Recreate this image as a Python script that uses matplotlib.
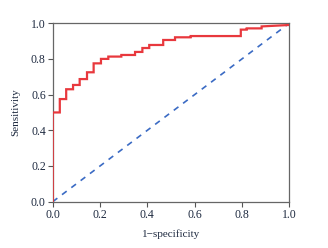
import matplotlib
matplotlib.use("Agg")
from matplotlib import pyplot as plt
import numpy as np

# ROC step points
fpr = [0.0, 0.0, 0.03, 0.03, 0.057, 0.057, 0.086, 0.086, 0.114, 0.114, 0.145, 0.145,
       0.173, 0.173, 0.204, 0.204, 0.235, 0.235, 0.29, 0.29, 0.348, 0.348, 0.379, 0.379,
       0.408, 0.408, 0.467, 0.467, 0.517, 0.517, 0.583, 0.583, 0.795, 0.795, 0.82, 0.82,
       0.883, 0.883, 1.0]
tpr = [0.0, 0.5, 0.5, 0.575, 0.575, 0.63, 0.63, 0.654, 0.654, 0.687, 0.687, 0.725,
       0.725, 0.775, 0.775, 0.80, 0.80, 0.813, 0.813, 0.822, 0.822, 0.839, 0.839, 0.861,
       0.861, 0.878, 0.878, 0.906, 0.906, 0.921, 0.921, 0.928, 0.928, 0.964, 0.964, 0.971,
       0.971, 0.982, 0.99]
ref = [0.0, 1.0]
ticks = [0.0, 0.2, 0.4, 0.6, 0.8, 1.0]

plt.rcParams['font.family'] = ['Liberation Serif', 'DejaVu Serif']

fig = plt.figure(figsize=(3.28, 2.48), dpi=100)
ax = fig.add_axes([52.7/328, 46.3/248, 236.6/328, 178.5/248])

ax.plot(fpr, tpr, color='#e8383d', lw=1.6, solid_joinstyle='miter', zorder=3)
ax.plot(ref, ref, color='#3b6bc4', lw=1.2, ls=(0, (3.5, 3.5)), zorder=2)

ax.set_xlim(0, 1)
ax.set_ylim(0, 1)
ax.set_xticks(ticks)
ax.set_yticks(ticks)
ax.set_xticklabels(['%.1f' % t for t in ticks])
ax.set_yticklabels(['%.1f' % t for t in ticks])
ax.tick_params(direction='out', length=3.5, width=0.8, color='#555555',
               labelsize=8.5, labelcolor='#1e2a40', pad=1.5)
for s in ax.spines.values():
    s.set_color('#666666')
    s.set_linewidth(0.9)

ax.set_xlabel('1−specificity', fontsize=8, color='#1e2a40', labelpad=6)
ax.set_ylabel('Sensitivity', fontsize=8, color='#1e2a40', labelpad=8)

fig.savefig('out.png', dpi=100)
